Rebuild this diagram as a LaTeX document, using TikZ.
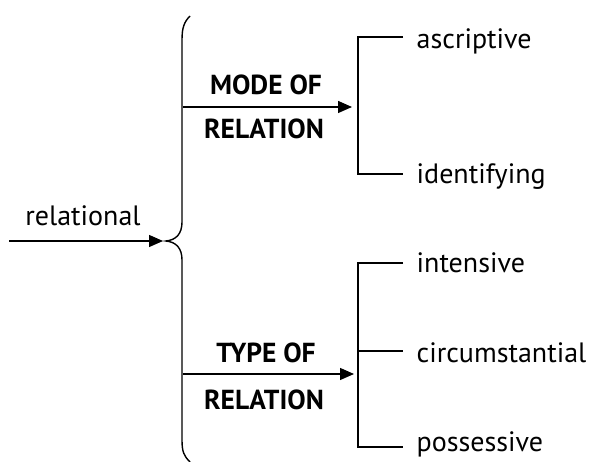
\documentclass[tikz,border=0pt]{standalone}
\usepackage{fontspec}
\setmainfont{PT Sans}
\usetikzlibrary{arrows.meta}
\begin{document}
\begin{tikzpicture}[x=1pt,y=-1pt,
  line width=1.4pt, line cap=butt,
  lbl/.style={inner sep=0pt, font=\fontsize{28}{32}\selectfont},
  hd/.style={inner sep=0pt, font=\fontsize{27.5}{32}\selectfont\bfseries},
  arr/.style={-{Triangle[length=14pt,width=12pt]}},
  brk/.style={line width=1.4pt}]
\useasboundingbox (0,0) rectangle (590,462);
% left input
\coordinate (in) at (9,241);
\coordinate (cusp) at (163,241);
\node[lbl, anchor=base] (rel) at (83,226) {relational};
\draw[arr] (in) -- (cusp);
% big brace
\draw[brk] (190,16) .. controls (184,22) and (182,28) .. (182,40)
  -- (182,222) .. controls (182,234) and (176,240) .. (166,241)
  .. controls (176,242) and (182,248) .. (182,260)
  -- (182,440) .. controls (182,452) and (184,456) .. (190,462);
% upper branch
\coordinate (u0) at (183,107);
\coordinate (u1) at (352,107);
\draw[arr] (u0) -- (u1);
\node[hd, anchor=base] (mode1) at (266,95) {MODE OF};
\node[hd, anchor=base] (mode2) at (264,139) {RELATION};
% lower branch
\coordinate (l0) at (183,374);
\coordinate (l1) at (354,374);
\draw[arr] (l0) -- (l1);
\node[hd, anchor=base] (type1) at (266,363) {TYPE OF};
\node[hd, anchor=base] (type2) at (264,410) {RELATION};
% upper bracket
\node[lbl, anchor=base west] (asc) at (416,49) {ascriptive};
\node[lbl, anchor=base west] (ide) at (416,184) {identifying};
\draw (403,37) -- (358,37) -- (358,174) -- (403,174);
% lower bracket
\node[lbl, anchor=base west] (int) at (416,273) {intensive};
\node[lbl, anchor=base west] (cir) at (416,363) {circumstantial};
\node[lbl, anchor=base west] (pos) at (416,452) {possessive};
\draw (403,263) -- (358,263) -- (358,447) -- (403,447);
\draw (358,351) -- (403,351);
\end{tikzpicture}
\end{document}
